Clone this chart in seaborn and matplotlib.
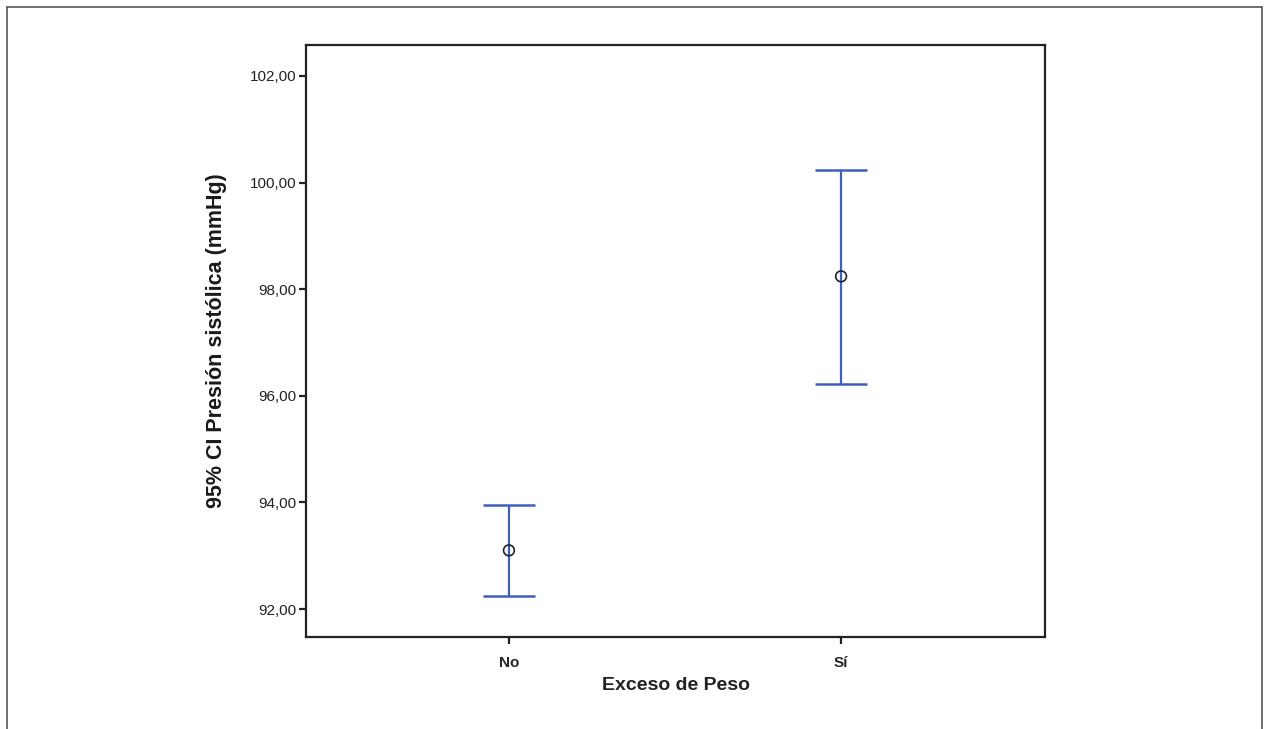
import matplotlib
matplotlib.use("Agg")
import matplotlib.pyplot as plt
import seaborn as sns
import pandas as pd
from matplotlib.lines import Line2D

categories = ["No", "Sí"]
means = [93.10, 98.24]
ci_low = [92.24, 96.23]
ci_high = [93.95, 100.23]
yticks = [92, 94, 96, 98, 100, 102]

sns.set_theme(style="ticks")
plt.rcParams["font.family"] = ["Liberation Sans", "DejaVu Sans"]

W, H = 1267, 729
fig = plt.figure(figsize=(W / 100, H / 100), dpi=100)
ax = fig.add_axes([306 / W, 1 - 637 / H, (1045 - 306) / W, (637 - 45) / H])

df = pd.DataFrame({"cat": categories, "mean": means, "lo": ci_low, "hi": ci_high})
df["x"] = range(len(df))

blue = "#3f5fbf"
yerr = [df["mean"] - df["lo"], df["hi"] - df["mean"]]
ax.errorbar(df["x"], df["mean"], yerr=yerr, fmt="none", ecolor=blue,
            elinewidth=1.6, capsize=19, capthick=1.8, zorder=2)
sns.scatterplot(data=df, x="x", y="mean", ax=ax, marker="o", s=60,
                facecolor="none", edgecolor="#222222", linewidth=1.2, zorder=3)

ax.set_xlim(-0.611, 1.614)
ax.set_ylim(91.475, 102.58)
ax.set_xticks(df["x"])
ax.set_xticklabels(categories, fontsize=11, fontweight="bold")
ax.set_yticks(yticks)
ax.set_yticklabels([f"{v:.2f}".replace(".", ",") for v in yticks], fontsize=11, color="#222222")
ax.tick_params(axis="both", length=5, width=1.6, color="#222222", pad=2)
ax.tick_params(axis="x", pad=9)
for s in ax.spines.values():
    s.set_linewidth(1.6)
    s.set_color("#222222")
    s.set_visible(True)

ax.set_xlabel("Exceso de Peso", fontsize=14, fontweight="bold", color="#222222", labelpad=5)
ax.set_ylabel("95% CI Presión sistólica (mmHg)", fontsize=15.5, fontweight="bold",
              color="#1a1a1a", labelpad=16)

# outer frame (open at bottom)
x0, x1 = 6.5 / W, 1261.5 / W
y0 = 1 - 6.5 / H
for xs, ys in [([x0, x0], [0, y0]), ([x0, x1], [y0, y0]), ([x1, x1], [y0, 0])]:
    fig.add_artist(Line2D(xs, ys, transform=fig.transFigure, color="#555555", linewidth=1.2))

fig.savefig("out.png", dpi=100)
